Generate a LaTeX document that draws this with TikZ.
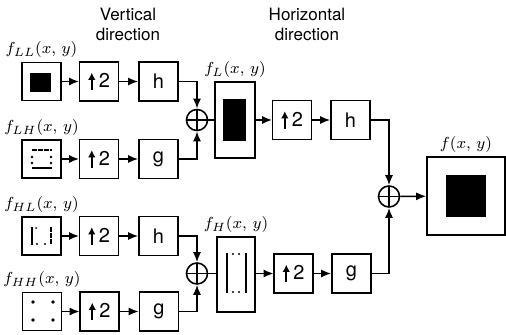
\documentclass[tikz,border=0pt]{standalone}
\usepackage{fontspec}
\setsansfont{TeX Gyre Heros}
\usepackage{tikz}
\usetikzlibrary{arrows.meta}

\newcommand{\upby}{\tikz[baseline=0pt]\draw[line width=1.1pt,-{Latex[length=3.6pt,width=3.8pt]}] (0pt,-1.2pt) -- (0pt,7.6pt);\,2}

\begin{document}
\begin{tikzpicture}[
    x=0.5pt, y=-0.5pt,
    line width=0.8pt,
    >={Latex[length=5pt,width=4pt]},
    blk/.style={draw, minimum width=19.5pt, minimum height=19.5pt, inner sep=0pt,
      font=\sffamily\fontsize{10}{11}\selectfont},
    imgbox/.style={draw, minimum width=19.5pt, minimum height=19pt, inner sep=0pt},
    sum/.style={circle, draw, minimum size=10.5pt, inner sep=0pt,
      path picture={\draw (path picture bounding box.north) -- (path picture bounding box.south)
        (path picture bounding box.west) -- (path picture bounding box.east);}},
    every label/.style={font=\footnotesize, inner sep=1.5pt},
    title/.style={font=\sffamily\fontsize{8.5}{10}\selectfont, align=center}
  ]
  \useasboundingbox (0,0) rectangle (506,335);

  \node[title] (vtitle) at (128,24) {Vertical\\direction};
  \node[title] (htitle) at (307,24) {Horizontal\\direction};

  % Vertical direction, four rows
  \node[imgbox, label={above:$f_{LL}(x,\,y)$}] (ll) at (41.5,81.5) {};
  \node[blk] (llup) at (99,81.5) {\upby};
  \node[blk] (llh) at (158.5,81.5) {h};

  \node[imgbox, label={above:$f_{LH}(x,\,y)$}] (lh) at (41.5,159) {};
  \node[blk] (lhup) at (99,159) {\upby};
  \node[blk] (lhg) at (158.5,159) {g};

  \node[imgbox, label={above:$f_{HL}(x,\,y)$}] (hl) at (41.5,236) {};
  \node[blk] (hlup) at (99,236) {\upby};
  \node[blk] (hlh) at (158.5,236) {h};

  \node[imgbox, label={above:$f_{HH}(x,\,y)$}] (hh) at (42,311.5) {};
  \node[blk] (hhup) at (99.5,311.5) {\upby};
  \node[blk] (hhg) at (159,311.5) {g};

  \node[sum] (suml) at (197,120) {};
  \node[sum] (sumh) at (197,273.5) {};

  % Horizontal direction
  \node[draw, minimum width=20pt, minimum height=38pt, inner sep=0pt,
    label={above:$f_{L}(x,\,y)$}] (fl) at (235,120) {};
  \node[draw, minimum width=19pt, minimum height=37.5pt, inner sep=0pt,
    label={above:$f_{H}(x,\,y)$}] (fh) at (236,274.5) {};

  \node[blk] (lup) at (292,120) {\upby};
  \node[blk] (lfh) at (350.5,120) {h};
  \node[blk] (hup) at (293.5,273.5) {\upby};
  \node[blk] (hfg) at (351.5,273.5) {g};

  \node[sum] (sumf) at (389,196.5) {};
  \node[draw, minimum size=39pt, inner sep=0pt, label={above:$f(x,\,y)$}] (f) at (466,196) {};

  % image contents
  \fill (30,73) rectangle (51,92);
  \draw[line width=1.1pt, dash pattern=on 2.5pt off 0.5pt] (32,150) -- (52,150);
  \draw[line width=1pt] (32,168) -- (52,168);
  \foreach \px in {32,51} \foreach \py in {157,163} \fill (\px,\py) circle (0.7pt);
  \draw[line width=1pt] (32,227) -- (32,245);
  \draw[line width=1pt, dash pattern=on 2.5pt off 0.5pt] (51,227) -- (51,245);
  \foreach \px in {37,45} \fill (\px,244) circle (0.6pt);
  \fill (36,228) circle (0.5pt);
  \foreach \px in {33,53} \foreach \py in {302,320} \fill (\px,\py) circle (0.9pt);
  \fill (223,99) rectangle (246,141);
  \draw[line width=1pt] (227,253) -- (227,293);
  \draw[line width=1pt] (246,253) -- (246,293);
  \foreach \px in {233,239} {\fill (\px,254) circle (0.6pt); \fill (\px,292) circle (0.6pt);}
  \fill (446,175) rectangle (486,217);

  % connectors
  \draw[->] (ll) -- (llup);
  \draw[->] (llup) -- (llh);
  \draw[->] (lh) -- (lhup);
  \draw[->] (lhup) -- (lhg);
  \draw[->] (hl) -- (hlup);
  \draw[->] (hlup) -- (hlh);
  \draw[->] (hh) -- (hhup);
  \draw[->] (hhup) -- (hhg);
  \draw[->] (llh) -| (suml);
  \draw[->] (lhg) -| (suml);
  \draw[->] (hlh) -| (sumh);
  \draw[->] (hhg) -| (sumh);
  \draw (suml) -- (fl);
  \draw (sumh) -- (fh.west |- sumh);
  \draw[->] (fl) -- (lup);
  \draw[->] (lup) -- (lfh);
  \draw[->] (fh.east |- hup) -- (hup);
  \draw[->] (hup) -- (hfg);
  \draw[->] (lfh) -| (sumf);
  \draw[->] (hfg) -| (sumf);
  \draw[->] (sumf) -- (f);
\end{tikzpicture}
\end{document}
